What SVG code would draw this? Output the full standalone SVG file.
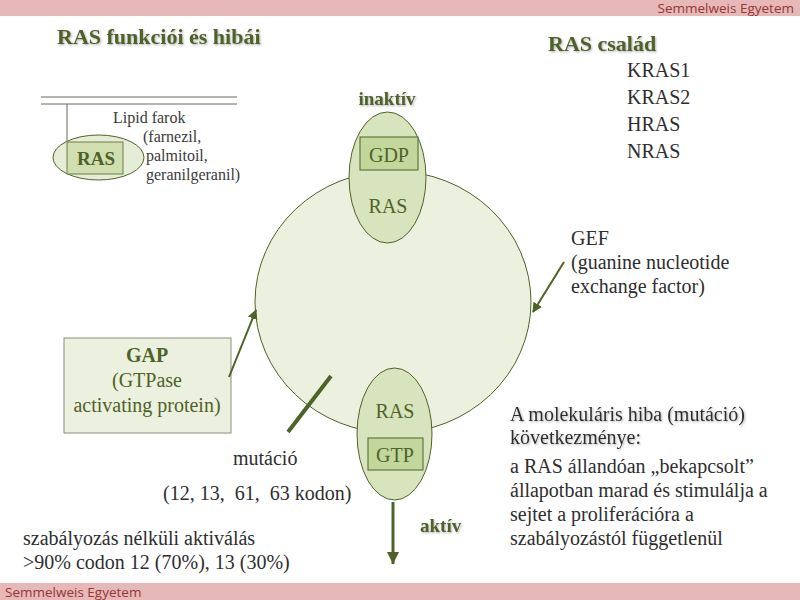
<svg xmlns="http://www.w3.org/2000/svg" width="800" height="600" viewBox="0 0 800 600">
<defs>
<style>
.bar{fill:#e6b8b7}
.brand{font-family:"Open Sans","Liberation Sans",sans-serif;font-size:13.5px;fill:#953735}
.title{font-family:"Liberation Serif","Times New Roman",serif;font-weight:bold;fill:#4f6228}
.lbl{font-family:"Liberation Serif","Times New Roman",serif;font-size:20px;fill:#4f6228}
.txt{font-family:"Liberation Serif","Times New Roman",serif;font-size:20px;fill:#2e2e2e}
.sm{font-family:"Liberation Serif","Times New Roman",serif;font-size:16px;fill:#3a3a3a}
.node{fill:#d7e4bd;stroke:#4f6228;stroke-width:1}
.box{fill:#c3d69b;stroke:#4f6228;stroke-width:1}
.conn{stroke:#4f6228;fill:none}
</style>
<filter id="sh" x="-5%" y="-20%" width="115%" height="150%">
<feDropShadow dx="1" dy="1.2" stdDeviation="0.8" flood-color="#7f7f7f" flood-opacity="0.6"/>
</filter>
<marker id="ah" markerWidth="10" markerHeight="10" refX="9" refY="5" orient="auto" markerUnits="userSpaceOnUse" viewBox="0 0 10 10">
<path d="M0,0 L10,5 L0,10 z" fill="#4f6228"/>
</marker>
<marker id="ahd" markerWidth="12" markerHeight="12" refX="10" refY="5" orient="auto" markerUnits="userSpaceOnUse" viewBox="0 0 10 10">
<path d="M0,0 L10,5 L0,10 z" fill="#4f6228"/>
</marker>
</defs>
<rect width="800" height="600" fill="#ffffff"/>
<!-- header / footer -->
<rect class="bar" x="0" y="0" width="800" height="16"/>
<text class="brand" x="794" y="13" text-anchor="end">Semmelweis Egyetem</text>
<rect class="bar" x="0" y="583" width="800" height="17"/>
<text class="brand" x="5" y="597">Semmelweis Egyetem</text>

<text class="title" x="57" y="44" font-size="22" filter="url(#sh)">RAS funkciói és hibái</text>

<g id="ras-family">
<text class="title" x="548" y="51" font-size="22" filter="url(#sh)">RAS család</text>
<text class="txt" x="627" y="77" font-size="22">KRAS1</text>
<text class="txt" x="627" y="104" font-size="22">KRAS2</text>
<text class="txt" x="627" y="131" font-size="22">HRAS</text>
<text class="txt" x="627" y="158" font-size="22">NRAS</text>
</g>

<g id="membrane">
<line x1="41" y1="97" x2="237" y2="97" stroke="#6b6b5a" stroke-width="1"/>
<line x1="41" y1="104" x2="237" y2="104" stroke="#6b6b5a" stroke-width="1"/>
<line x1="67" y1="104" x2="67" y2="142" stroke="#6b6b5a" stroke-width="1"/>
<ellipse cx="98.5" cy="157.5" rx="45.5" ry="22.5" fill="#e6edd6" stroke="#4f6228"/>
<rect x="67" y="142" width="56" height="32" fill="#d0deb0" stroke="#6b7f45"/>
<text class="title" x="96" y="165" font-size="19" text-anchor="middle">RAS</text>
<text class="sm" x="113" y="123">Lipid farok</text>
<text class="sm" x="143" y="142">(farnezil,</text>
<text class="sm" x="146" y="161">palmitoil,</text>
<text class="sm" x="146" y="180">geranilgeranil)</text>
</g>

<g id="cycle">
<ellipse cx="393" cy="302" rx="138" ry="131" fill="#ebf1de" stroke="#4f6228" stroke-width="1"/>
</g>

<g id="inactive">
<text class="title" x="387" y="105" font-size="19" text-anchor="middle" filter="url(#sh)">inaktív</text>
<ellipse class="node" cx="387.5" cy="177.5" rx="38.5" ry="65.5"/>
<rect class="box" x="360" y="137" width="58" height="33"/>
<text class="lbl" x="389" y="162" text-anchor="middle">GDP</text>
<text class="lbl" x="388" y="213" text-anchor="middle">RAS</text>
</g>

<g id="active">
<ellipse class="node" cx="394.5" cy="434" rx="37.5" ry="66"/>
<text class="lbl" x="395" y="418" text-anchor="middle">RAS</text>
<rect class="box" x="368" y="438" width="55" height="32"/>
<text class="lbl" x="395" y="462" text-anchor="middle">GTP</text>
<text class="title" x="420" y="532" font-size="19" filter="url(#sh)">aktív</text>
</g>

<g id="gap">
<rect x="64" y="338" width="167" height="95" fill="#ebf1de" stroke="#8a8f7a" stroke-width="1"/>
<text class="title" x="147" y="362" font-size="20" text-anchor="middle">GAP</text>
<text class="lbl" x="147" y="387" text-anchor="middle">(GTPase</text>
<text class="lbl" x="147" y="412" text-anchor="middle">activating protein)</text>
</g>

<g id="gef">
<text class="txt" x="571" y="245">GEF</text>
<text class="txt" x="571" y="269">(guanine nucleotide</text>
<text class="txt" x="571" y="293">exchange factor)</text>
</g>

<g id="mutation">
<text class="txt" x="233" y="465" font-size="21">mutáció</text>
<text class="txt" x="163" y="500" xml:space="preserve">(12, 13,  61,  63 kodon)</text>
</g>

<g id="notes">
<text class="txt" x="23" y="545" font-size="21">szabályozás nélküli aktiválás</text>
<text class="txt" x="23" y="569" font-size="21">&gt;90% codon 12 (70%), 13 (30%)</text>
<text class="txt" x="510" y="421" fill="#3f4a2e" filter="url(#sh)">A molekuláris hiba (mutáció)</text>
<text class="txt" x="510" y="444" fill="#3f4a2e" filter="url(#sh)">következménye:</text>
<text class="txt" x="510" y="473" fill="#3f4a2e">a RAS állandóan „bekapcsolt”</text>
<text class="txt" x="510" y="497" fill="#3f4a2e">állapotban marad és stimulálja a</text>
<text class="txt" x="510" y="521" fill="#3f4a2e">sejtet a proliferációra a</text>
<text class="txt" x="510" y="545" fill="#3f4a2e">szabályozástól függetlenül</text>
</g>

<g id="connectors">
<line class="conn" x1="229" y1="377" x2="256" y2="310" stroke-width="2" marker-end="url(#ah)"/>
<line class="conn" x1="564" y1="262" x2="533" y2="312" stroke-width="2" marker-end="url(#ah)"/>
<line class="conn" x1="393" y1="502" x2="393" y2="564" stroke-width="3" marker-end="url(#ahd)"/>
<line class="conn" x1="331" y1="376" x2="288" y2="432" stroke-width="4"/>
</g>
</svg>
